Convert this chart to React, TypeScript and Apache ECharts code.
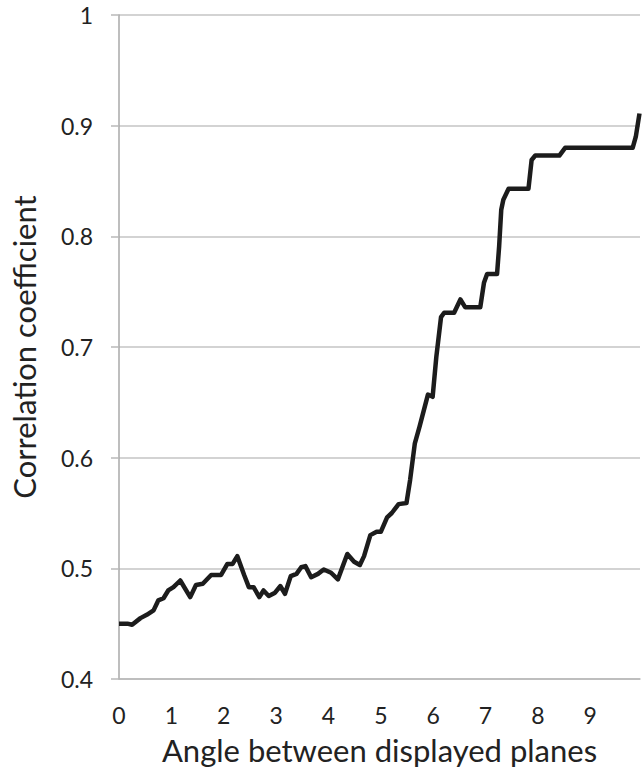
import React, { useEffect, useRef } from "react";
import * as echarts from "echarts";

// Angle between displayed planes (x) vs. correlation coefficient (y)
const angles = [
  0, 0.16, 0.25, 0.41, 0.53, 0.66, 0.75, 0.85, 0.94, 1.04, 1.17, 1.36, 1.47, 1.6, 1.76,
  1.95, 2.07, 2.17, 2.26, 2.39, 2.48, 2.57, 2.68, 2.76, 2.86, 2.98, 3.08, 3.17, 3.28, 3.39,
  3.48, 3.56, 3.67, 3.8, 3.91, 4.05, 4.18, 4.36, 4.49, 4.6, 4.68, 4.8, 4.92, 5.0, 5.12,
  5.21, 5.34, 5.49, 5.56, 5.65, 5.74, 5.9, 5.99, 6.06, 6.15, 6.21, 6.4, 6.52, 6.61, 6.9,
  6.97, 7.03, 7.22, 7.26, 7.3, 7.34, 7.44, 7.82, 7.88, 7.95, 8.41, 8.52, 9.81, 9.87, 9.94,
];
const correlation = [
  0.45, 0.45, 0.449, 0.455, 0.458, 0.462, 0.471, 0.473, 0.48, 0.483, 0.489, 0.474, 0.485,
  0.486, 0.494, 0.494, 0.504, 0.504, 0.511, 0.494, 0.483, 0.483, 0.474, 0.48, 0.475, 0.478,
  0.484, 0.477, 0.493, 0.495, 0.501, 0.502, 0.492, 0.495, 0.499, 0.496, 0.49, 0.513, 0.506,
  0.503, 0.511, 0.53, 0.533, 0.533, 0.546, 0.55, 0.558, 0.559, 0.58, 0.613, 0.628, 0.657,
  0.655, 0.691, 0.727, 0.731, 0.731, 0.743, 0.736, 0.736, 0.758, 0.766, 0.766, 0.791, 0.824,
  0.833, 0.843, 0.843, 0.869, 0.873, 0.873, 0.88, 0.88, 0.89, 0.911,
];

const xTitle = "Angle between displayed planes";
const yTitle = "Correlation coefficient";

const FONT = "Lato, 'Open Sans', sans-serif";

export default function App() {
  const ref = useRef<HTMLDivElement>(null);

  useEffect(() => {
    if (!ref.current) return;
    const chart = echarts.init(ref.current, null, { renderer: "svg" });
    const points = angles.map((a, i) => [a, correlation[i]]);
    chart.setOption({
      animation: false,
      backgroundColor: "#ffffff",
      grid: { left: 115, right: 0, top: 15, bottom: 93, containLabel: false },
      xAxis: {
        type: "value",
        min: 0,
        max: 9.95,
        interval: 1,
        name: xTitle,
        nameLocation: "middle",
        nameGap: 55,
        nameTextStyle: { fontFamily: FONT, fontSize: 31, color: "#222" },
        axisLine: { show: true, lineStyle: { color: "#b8b8b8", width: 1.5 } },
        axisTick: { show: false },
        axisLabel: {
          margin: 24,
          fontFamily: FONT,
          fontSize: 23,
          color: "#222",
          formatter: (v: number) => (Number.isInteger(v) ? String(v) : ""),
        },
        splitLine: { show: false },
      },
      yAxis: {
        type: "value",
        min: 0.4,
        max: 1,
        interval: 0.1,
        name: yTitle,
        nameLocation: "middle",
        nameGap: 80,
        nameTextStyle: { fontFamily: FONT, fontSize: 31, color: "#222" },
        axisLine: { show: true, lineStyle: { color: "#a8a8a8", width: 1.5 } },
        axisTick: { show: true, length: 8, lineStyle: { color: "#b8b8b8", width: 1.5 } },
        axisLabel: {
          margin: 26,
          fontFamily: FONT,
          fontSize: 23,
          color: "#222",
          formatter: (v: number) => String(Math.round(v * 10) / 10),
        },
        splitLine: { show: true, lineStyle: { color: "#c4c4c4", width: 1.5 } },
      },
      series: [
        {
          type: "line",
          data: points,
          symbol: "none",
          lineStyle: { color: "#1c1c1c", width: 4.5, join: "round" },
          clip: false,
        },
      ],
    });
    return () => chart.dispose();
  }, []);

  return (
    <div
      ref={ref}
      style={{ position: "fixed", left: 0, top: 0, width: 643, height: 772, background: "#fff" }}
    />
  );
}
